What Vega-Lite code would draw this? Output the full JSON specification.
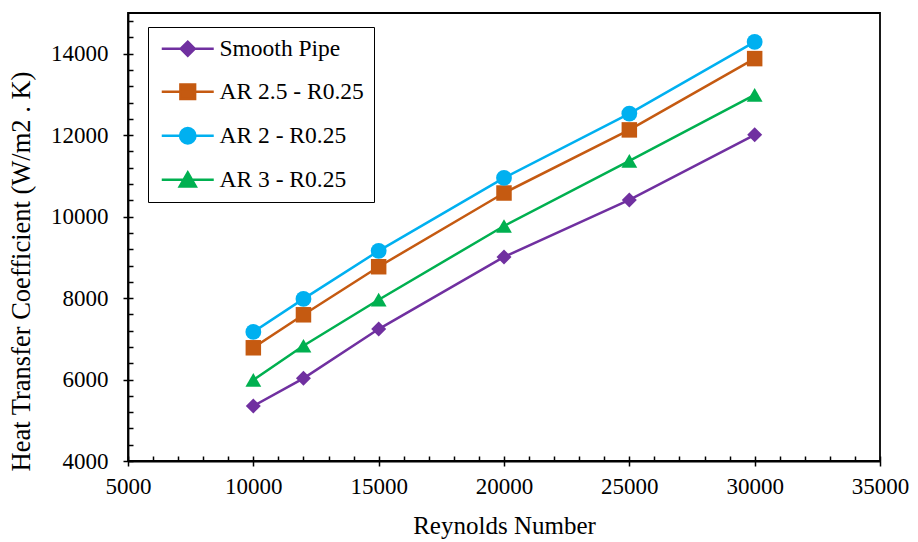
{
  "$schema": "https://vega.github.io/schema/vega-lite/v6.json",
  "width": 752,
  "height": 448,
  "autosize": {"type": "none"},
  "padding": {"left": 128, "top": 13, "right": 38, "bottom": 81},
  "background": "white",
  "config": {
    "view": {"stroke": "black", "strokeWidth": 1.8},
    "axis": {
      "labelFont": "Liberation Serif",
      "labelFontSize": 23,
      "labelColor": "black",
      "titleFont": "Liberation Serif",
      "titleFontSize": 25,
      "titleFontWeight": "normal",
      "titleColor": "black",
      "domainColor": "black",
      "domainWidth": 1.8,
      "tickColor": "black",
      "tickWidth": 1.5,
      "grid": false
    },
    "legend": {
      "labelFont": "Liberation Serif",
      "labelFontSize": 23.5,
      "labelColor": "black",
      "labelLimit": 400,
      "symbolOpacity": 1,
      "symbolSize": 196,
      "symbolStrokeWidth": 2.5
    }
  },
  "data": {
    "values": [
      {"series": "Smooth Pipe", "re": 10000, "h": 5350},
      {"series": "Smooth Pipe", "re": 12000, "h": 6030},
      {"series": "Smooth Pipe", "re": 15000, "h": 7240},
      {"series": "Smooth Pipe", "re": 20000, "h": 9010},
      {"series": "Smooth Pipe", "re": 25000, "h": 10410},
      {"series": "Smooth Pipe", "re": 30000, "h": 12010},
      {"series": "AR 2.5 - R0.25", "re": 10000, "h": 6780},
      {"series": "AR 2.5 - R0.25", "re": 12000, "h": 7590},
      {"series": "AR 2.5 - R0.25", "re": 15000, "h": 8770},
      {"series": "AR 2.5 - R0.25", "re": 20000, "h": 10580},
      {"series": "AR 2.5 - R0.25", "re": 25000, "h": 12130},
      {"series": "AR 2.5 - R0.25", "re": 30000, "h": 13880},
      {"series": "AR 2 - R0.25", "re": 10000, "h": 7170},
      {"series": "AR 2 - R0.25", "re": 12000, "h": 7980},
      {"series": "AR 2 - R0.25", "re": 15000, "h": 9160},
      {"series": "AR 2 - R0.25", "re": 20000, "h": 10950},
      {"series": "AR 2 - R0.25", "re": 25000, "h": 12530},
      {"series": "AR 2 - R0.25", "re": 30000, "h": 14290},
      {"series": "AR 3 - R0.25", "re": 10000, "h": 5990},
      {"series": "AR 3 - R0.25", "re": 12000, "h": 6830},
      {"series": "AR 3 - R0.25", "re": 15000, "h": 7960},
      {"series": "AR 3 - R0.25", "re": 20000, "h": 9770},
      {"series": "AR 3 - R0.25", "re": 25000, "h": 11370},
      {"series": "AR 3 - R0.25", "re": 30000, "h": 12990}
    ]
  },
  "layer": [
    {
      "transform": [{"filter": "datum.series === 'Smooth Pipe'"}],
      "mark": {"type": "line", "strokeWidth": 2.5, "color": "#7030A0",
               "point": {"filled": true, "opacity": 1, "shape": "diamond", "size": 225, "color": "#7030A0"}},
      "encoding": {
        "x": {
          "field": "re", "type": "quantitative",
          "scale": {"domain": [5000, 35000], "nice": false, "zero": false},
          "axis": {
            "orient": "bottom",
            "title": "Reynolds Number",
            "values": [5000, 10000, 15000, 20000, 25000, 30000, 35000],
            "format": "d",
            "tickSize": 5,
            "labelPadding": 9,
            "titlePadding": 15,
            "labelFlush": false,
            "labelOverlap": false
          }
        },
        "y": {
          "field": "h", "type": "quantitative",
          "scale": {"domain": [4000, 15000], "nice": false, "zero": false},
          "axis": {
            "orient": "left",
            "title": "Heat Transfer Coefficient (W/m2 . K)",
            "titleFontSize": 26.5,
            "titleY": 258,
            "values": [4000, 6000, 8000, 10000, 12000, 14000],
            "format": "d",
            "tickSize": 5,
            "labelPadding": 15,
            "titlePadding": 15,
            "labelFlush": false,
            "labelOverlap": false
          }
        }
      }
    },
    {
      "transform": [{"filter": "datum.series === 'AR 2.5 - R0.25'"}],
      "mark": {"type": "line", "strokeWidth": 2.5, "color": "#C55A11",
               "point": {"filled": true, "opacity": 1, "shape": "square", "size": 240, "color": "#C55A11"}},
      "encoding": {
        "x": {"field": "re", "type": "quantitative", "axis": null},
        "y": {"field": "h", "type": "quantitative", "axis": null}
      }
    },
    {
      "transform": [{"filter": "datum.series === 'AR 2 - R0.25'"}],
      "mark": {"type": "line", "strokeWidth": 2.5, "color": "#00B0F0",
               "point": {"filled": true, "opacity": 1, "shape": "circle", "size": 250, "color": "#00B0F0"}},
      "encoding": {
        "x": {"field": "re", "type": "quantitative", "axis": null},
        "y": {"field": "h", "type": "quantitative", "axis": null}
      }
    },
    {
      "transform": [{"filter": "datum.series === 'AR 3 - R0.25'"}],
      "mark": {"type": "line", "strokeWidth": 2.5, "color": "#00B050",
               "point": {"filled": true, "opacity": 1, "shape": "triangle-up", "size": 250, "color": "#00B050"}},
      "encoding": {
        "x": {"field": "re", "type": "quantitative", "axis": null},
        "y": {"field": "h", "type": "quantitative", "axis": null}
      }
    },
    {
      "mark": {"type": "point", "filled": true, "opacity": 0, "size": 196, "strokeWidth": 2.5},
      "encoding": {
        "x": {
          "field": "re", "type": "quantitative",
          "axis": {
            "orient": "bottom",
            "title": null,
            "labels": false,
            "domain": false,
            "tickSize": -5,
            "values": [5000, 6000, 7000, 8000, 9000, 10000, 11000, 12000, 13000, 14000, 15000, 16000, 17000, 18000, 19000, 20000, 21000, 22000, 23000, 24000, 25000, 26000, 27000, 28000, 29000, 30000, 31000, 32000, 33000, 34000, 35000]
          }
        },
        "y": {
          "field": "h", "type": "quantitative",
          "axis": {
            "orient": "left",
            "title": null,
            "labels": false,
            "domain": false,
            "tickSize": -5,
            "values": [4000, 4400, 4800, 5200, 5600, 6000, 6400, 6800, 7200, 7600, 8000, 8400, 8800, 9200, 9600, 10000, 10400, 10800, 11200, 11600, 12000, 12400, 12800, 13200, 13600, 14000, 14400, 14800]
          }
        },
        "fill": {
          "field": "series", "type": "nominal",
          "scale": {
            "domain": ["Smooth Pipe", "AR 2.5 - R0.25", "AR 2 - R0.25", "AR 3 - R0.25"],
            "range": ["#7030A0", "#C55A11", "#00B0F0", "#00B050"]
          },
          "legend": {
            "orient": "none", "legendX": 20, "legendY": 14, "title": null,
            "padding": 10, "rowPadding": 18, "strokeColor": "black", "fillColor": "white",
            "symbolOffset": 18, "labelOffset": 20
          }
        },
        "stroke": {
          "field": "series", "type": "nominal",
          "scale": {
            "domain": ["Smooth Pipe", "AR 2.5 - R0.25", "AR 2 - R0.25", "AR 3 - R0.25"],
            "range": ["#7030A0", "#C55A11", "#00B0F0", "#00B050"]
          },
          "legend": {
            "orient": "none", "legendX": 20, "legendY": 14, "title": null,
            "padding": 10, "rowPadding": 18, "strokeColor": "black", "fillColor": "white",
            "symbolOffset": 18, "labelOffset": 20
          }
        },
        "shape": {
          "field": "series", "type": "nominal",
          "scale": {
            "domain": ["Smooth Pipe", "AR 2.5 - R0.25", "AR 2 - R0.25", "AR 3 - R0.25"],
            "range": [
              "M-3.714,0H3.714M-1,0L0,-1L1,0L0,1Z",
              "M-3.714,0H3.714M-1.05,-1.05H1.05V1.05H-1.05Z",
              "M-3.714,0H3.714M-1.1,0A1.1,1.1,0,1,1,1.1,0A1.1,1.1,0,1,1,-1.1,0Z",
              "M-3.714,0H3.714M0,-1.05L1.15,0.95L-1.15,0.95Z"
            ]
          },
          "legend": {
            "orient": "none", "legendX": 20, "legendY": 14, "title": null,
            "padding": 10, "rowPadding": 18, "strokeColor": "black", "fillColor": "white",
            "symbolOffset": 18, "labelOffset": 20
          }
        }
      }
    }
  ],
  "resolve": {"axis": {"x": "independent", "y": "independent"}}
}
